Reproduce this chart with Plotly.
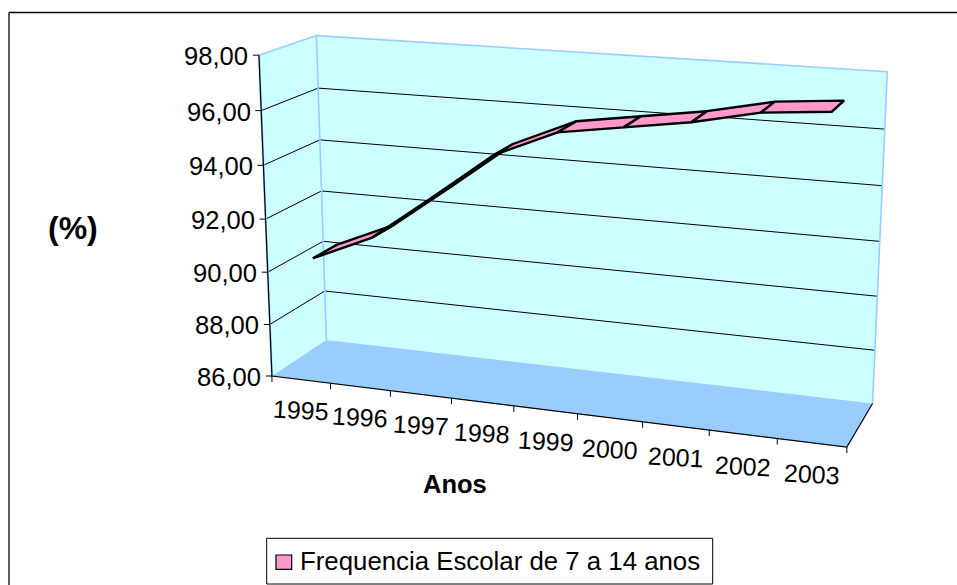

import numpy as np
import plotly.graph_objects as go

years = ["1995", "1996", "1997", "1998", "1999", "2000", "2001", "2002", "2003"]
freq_values = [90.3, 91.3, 93.0, 94.75, 95.75, 96.1, 96.45, 96.95, 97.15]
y_ticks = [86, 88, 90, 92, 94, 96, 98]
y_tick_labels = ["86,00", "88,00", "90,00", "92,00", "94,00", "96,00", "98,00"]
series_name = "Frequencia Escolar de 7 a 14 anos"
x_title = "Anos"
y_title = "(%)"

W, H = 957, 585
FONT = "Liberation Sans"
WALL, FLOOR, EDGE, PINK = "#CCFFFF", "#99CCFF", "#99CCFF", "#FF99CC"
YTICK_SIZE, XTICK_SIZE, TITLE_SIZE, PCT_SIZE, LEGEND_SIZE = 25.6, 25, 25.5, 32, 25.8
RIBBON_FRONT, RIBBON_BACK = 0.28, 0.72

# Perspective camera fitted to the box corners: (category, depth, value) -> page pixel
camera_fit = [((0, 0, 0), (272.3, 376)), ((0, 0, 1), (258.7, 55)), ((0, 1, 1), (316.7, 35.7)),
              ((0, 1, 0), (326, 340)), ((1, 1, 0), (872.7, 403.3)), ((1, 1, 1), (887.3, 71.7)),
              ((1, 0, 0), (846.7, 447.3))]
A, b = [], []
for (u, d, v), (x, y) in camera_fit:
    A.append([u, d, v, 1, 0, 0, 0, 0, -x*u, -x*d, -x*v]); b.append(x)
    A.append([0, 0, 0, 0, u, d, v, 1, -y*u, -y*d, -y*v]); b.append(y)
P = np.append(np.linalg.lstsq(np.array(A), np.array(b), rcond=None)[0], 1).reshape(3, 4)
ymin, ymax = y_ticks[0], y_ticks[-1]
n = len(years)

def proj(cat, depth, val):
    """cat in category units (0..n), depth 0..1, val in data units."""
    h = P @ np.array([cat / n, depth, (val - ymin) / (ymax - ymin), 1.0])
    return h[0] / h[2], h[1] / h[2]

fig = go.Figure()

def poly(pts, fill=None, line=None, width=1.0):
    xs, ys = zip(*pts)
    fig.add_trace(go.Scatter(
        x=list(xs), y=list(ys), mode="lines" if line else "none",
        fill="toself" if fill else None, fillcolor=fill,
        line=dict(color=line or "rgba(0,0,0,0)", width=width),
        hoverinfo="skip", showlegend=False))

# walls and floor
poly([proj(0, 0, ymin), proj(0, 0, ymax), proj(0, 1, ymax), proj(0, 1, ymin)], fill=WALL)
poly([proj(0, 1, ymin), proj(0, 1, ymax), proj(n, 1, ymax), proj(n, 1, ymin)], fill=WALL)
poly([proj(0, 0, ymin), proj(0, 1, ymin), proj(n, 1, ymin), proj(n, 0, ymin)], fill=FLOOR)

# gridlines
for t in y_ticks[1:-1]:
    poly([proj(0, 0, t), proj(0, 1, t), proj(n, 1, t)], line="#000000", width=1)

# wall edges
poly([proj(0, 0, ymax), proj(0, 1, ymax), proj(n, 1, ymax), proj(n, 1, ymin)], line=EDGE, width=1.6)
poly([proj(0, 1, ymax), proj(0, 1, ymin)], line=EDGE, width=1.6)
poly([proj(0, 0, ymax), proj(0, 0, ymin)], line=EDGE, width=2.2)

# axes
poly([proj(0, 0, ymax), proj(0, 0, ymin), proj(n, 0, ymin), proj(n, 1, ymin)], line="#000000", width=1.2)
for t in y_ticks:
    x0, y0 = proj(0, 0, t)
    poly([(x0 - 6, y0), (x0, y0)], line="#000000", width=1)
for i in range(n + 1):
    x0, y0 = proj(i, 0, ymin)
    poly([(x0, y0), (x0, y0 + 6)], line="#000000", width=1)

# ribbon series
for i in range(n - 1):
    poly([proj(i + .5, RIBBON_FRONT, freq_values[i]), proj(i + 1.5, RIBBON_FRONT, freq_values[i + 1]),
          proj(i + 1.5, RIBBON_BACK, freq_values[i + 1]), proj(i + .5, RIBBON_BACK, freq_values[i]),
          proj(i + .5, RIBBON_FRONT, freq_values[i])], fill=PINK, line="#000000", width=2.4)

ann = []
def text(x, y, s, size, anchor="center", bold=False, angle=0):
    ann.append(dict(x=x, y=y, xref="x", yref="y", text=f"<b>{s}</b>" if bold else s, showarrow=False,
                    xanchor=anchor, yanchor="middle", textangle=angle,
                    font=dict(family=FONT, size=size, color="#000000")))

for t, lab in zip(y_ticks, y_tick_labels):
    x0, y0 = proj(0, 0, t)
    text(x0 - 8.5, y0 + 1, lab, YTICK_SIZE, anchor="right")
for i, yr in enumerate(years):
    x0, y0 = proj(i + .5, 0, ymin)
    text(x0, y0 + 30 + 1.5 * i / (n - 1), yr, XTICK_SIZE, angle=3)
text(455, 484, x_title, TITLE_SIZE, bold=True)
text(73, 228, y_title, PCT_SIZE, bold=True)
text(298, 561, series_name, LEGEND_SIZE, anchor="left")

shapes = [
    dict(type="line", xref="x", yref="y", x0=9, x1=W, y0=12.5, y1=12.5, line=dict(color="#000000", width=1.6)),
    dict(type="line", xref="x", yref="y", x0=9, x1=9, y0=12.5, y1=H, line=dict(color="#333333", width=1.6)),
    dict(type="rect", xref="x", yref="y", x0=266.7, x1=712.7, y0=538.3, y1=584, fillcolor="#FFFFFF",
         line=dict(color="#000000", width=1), layer="below"),
    dict(type="rect", xref="x", yref="y", x0=276, x1=291.7, y0=555, y1=569.3, fillcolor=PINK,
         line=dict(color="#000000", width=1.2)),
]

fig.update_layout(
    width=W, height=H, margin=dict(l=0, r=0, t=0, b=0), autosize=False,
    paper_bgcolor="#FFFFFF", plot_bgcolor="#FFFFFF", showlegend=False,
    xaxis=dict(range=[0, W], visible=False, fixedrange=True),
    yaxis=dict(range=[H, 0], visible=False, fixedrange=True),
    annotations=ann, shapes=shapes)
fig.write_html("out.html", config={"displayModeBar": False},
               post_script="document.body.style.margin='0';document.documentElement.style.overflow='hidden';")
